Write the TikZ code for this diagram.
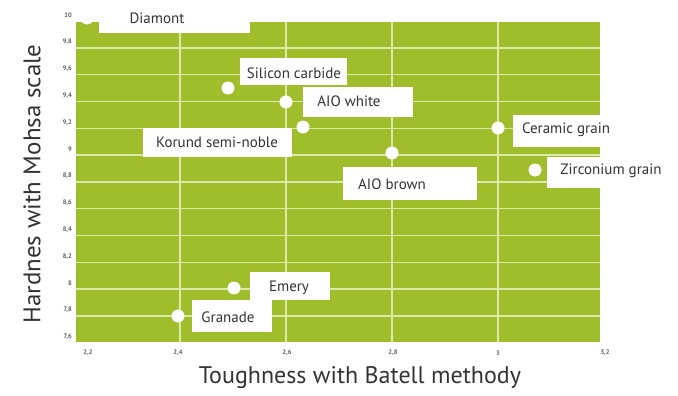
\documentclass[tikz,border=0pt]{standalone}
\usepackage{fontspec}
\setmainfont{PT Sans}
\definecolor{plotgreen}{HTML}{A0BD2C}
\definecolor{gridgreen}{HTML}{DCE9A8}
\definecolor{txt}{HTML}{333333}
\definecolor{tick}{HTML}{5E5E5E}
\tikzset{
  lbl/.style={font=\fontsize{15}{15}\selectfont, text=txt, inner sep=0pt},
  pt/.style={circle, fill=white, minimum size=13pt, inner sep=0pt},
  box/.style={fill=white},
  ticklbl/.style={font=\fontsize{6.5}{6.5}\selectfont\bfseries, text=tick, inner sep=0pt},
  axtitle/.style={font=\fontsize{24}{24}\selectfont, text=txt, inner sep=0pt},
  gridln/.style={draw=gridgreen, line width=1.4pt}
}
\begin{document}
\begin{tikzpicture}[x=1pt,y=-1pt]
\useasboundingbox (0,0) rectangle (678,396);
% plot area
\fill[plotgreen] (76,22) rectangle (600,342);
% horizontal gridlines (every 0.2 from 7.8 to 9.8)
\foreach \v in {7.8,8.0,...,9.81} {
  \draw[gridln] (76,{21+(10-\v)*134}) -- (600,{21+(10-\v)*134});
}
% vertical gridlines
\foreach \u in {2.4,2.6,2.8,3.0} {
  \draw[gridln] ({74+(\u-2.2)*530},22) -- ({74+(\u-2.2)*530},342);
}
% white label boxes
\fill[box] (99,-2) rectangle (250,33);
\fill[box] (240,58) rectangle (347,85);
\fill[box] (303,87) rectangle (413,117);
\fill[box] (143,128) rectangle (292,157);
\fill[box] (343,167) rectangle (477,200);
\fill[box] (513,115) rectangle (678,147);
\fill[box] (547,157) rectangle (678,188);
\fill[box] (250,272) rectangle (330,300);
\fill[box] (192,300) rectangle (272,332);
% points
\node[pt] (pdia) at (87,18) {};
\node[pt] (psic) at (228,88) {};
\node[pt] (paow) at (286,102) {};
\node[pt] (pkor) at (303,127) {};
\node[pt] (paob) at (392,153) {};
\node[pt] (pcer) at (498,128) {};
\node[pt] (pzir) at (535,170) {};
\node[pt] (peme) at (234,288) {};
\node[pt] (pgra) at (178,316) {};
% labels
\node[lbl] (tdia) at (157,18) {Diamont};
\node[lbl] (tsic) at (294,73) {Silicon carbide};
\node[lbl] (taow) at (349,101) {AIO white};
\node[lbl] (tkor) at (217,142) {Korund semi-noble};
\node[lbl] (taob) at (392,184) {AIO brown};
\node[lbl] (tcer) at (566,130) {Ceramic grain};
\node[lbl] (tzir) at (611,171) {Zirconium grain};
\node[lbl] (teme) at (289,288) {Emery};
\node[lbl] (tgra) at (228,317) {Granade};
% y tick labels
\foreach \v/\t in {10/10,9.8/{9,8},9.6/{9,6},9.4/{9,4},9.2/{9,2},9.0/9,8.8/{8,8},8.6/{8,6},8.4/{8,4},8.2/{8,2},8.0/8,7.8/{7,8},7.6/{7,6}} {
  \node[ticklbl, anchor=east] at (72,{15+(10-\v)*134}) {\t};
}
% x tick labels
\node[ticklbl] (x1) at (88,353) {2,2};
\node[ticklbl] (x2) at (178,353) {2,4};
\node[ticklbl] (x3) at (287,353) {2,6};
\node[ticklbl] (x4) at (393,353) {2,8};
\node[ticklbl] (x5) at (498,353) {3};
\node[ticklbl] (x6) at (605,353) {3,2};
% axis titles
\node[axtitle] (xt) at (360,378) {Toughness with Batell methody};
\node[axtitle, rotate=90] (yt) at (32,184) {\scalebox{1.04}[1]{Hardnes with Mohsa scale}};
\end{tikzpicture}
\end{document}
